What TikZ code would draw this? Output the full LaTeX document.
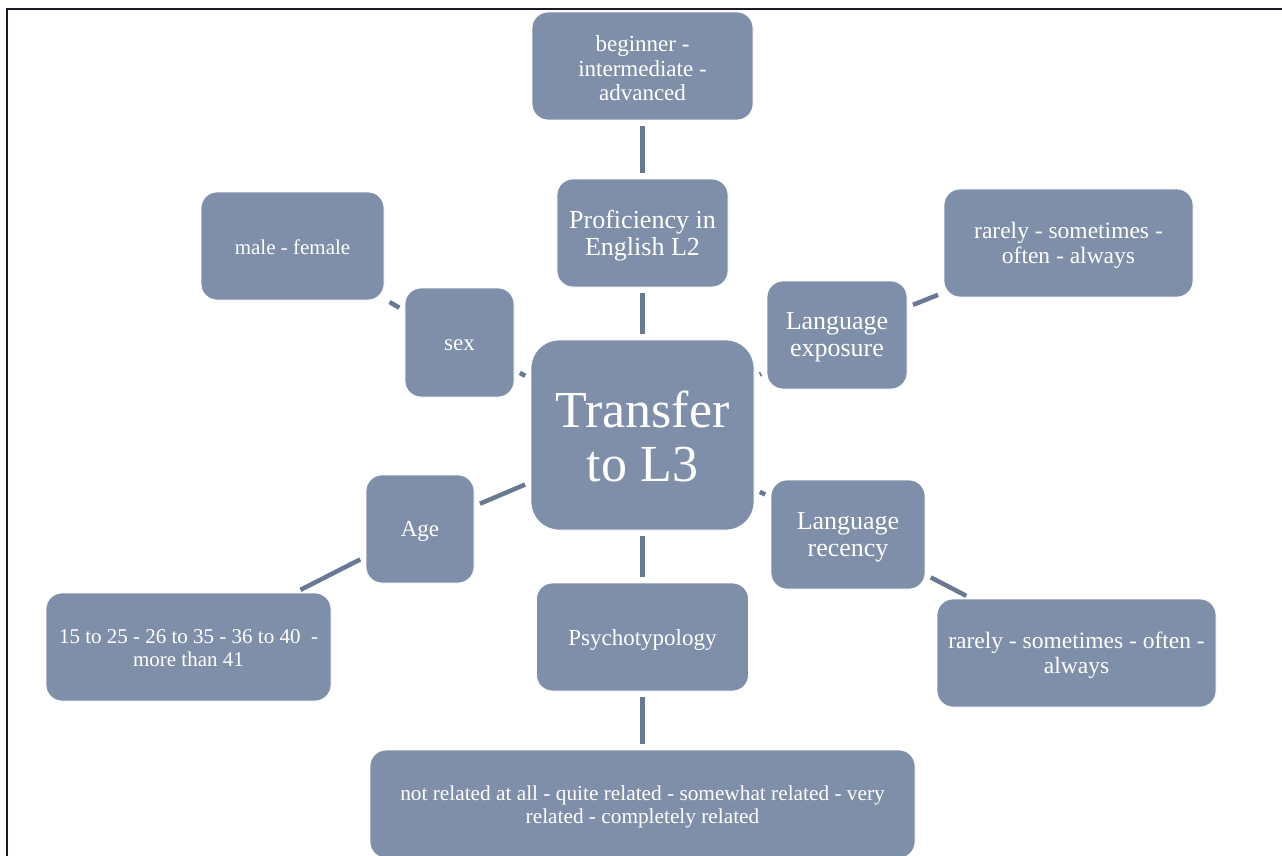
\documentclass[tikz,border=0pt]{standalone}
\usepackage{fontspec}
\setmainfont{Liberation Serif}
\definecolor{boxfill}{HTML}{7F8FA9}
\definecolor{linkcol}{HTML}{6A7993}
\definecolor{framecol}{HTML}{1A1A2A}
\begin{document}
\begin{tikzpicture}[x=1pt,y=-1pt,
  box/.style={rectangle, rounded corners=16pt, fill=boxfill, draw=white, line width=0.8pt,
    inner sep=0pt},
  boxtext/.style={text=white, inner sep=0pt, align=center},
  fA/.style={font=\fontsize{23pt}{24.5pt}\selectfont},
  fR/.style={font=\fontsize{23.5pt}{24.5pt}\selectfont},
  fB/.style={font=\fontsize{26pt}{27pt}\selectfont},
  fC/.style={font=\fontsize{21pt}{23pt}\selectfont},
  fD/.style={font=\fontsize{21.3pt}{23pt}\selectfont},
  link/.style={draw=linkcol, line width=4.5pt, shorten <=6pt, shorten >=6pt}]
\useasboundingbox (0,0) rectangle (1282,856);
\draw[framecol, line width=2pt] (6.5,857) -- (6.5,9) -- (1283,9);

\node[box, minimum width=221pt, minimum height=108pt] (top) at (642.5,66) {};
\node[box, minimum width=171pt, minimum height=108pt] (prof) at (642.5,233) {};
\node[box, rounded corners=28pt, minimum width=223pt, minimum height=190pt] (center) at (642.5,435) {};
\node[box, minimum width=109pt, minimum height=109pt] (sex) at (459.5,342.5) {};
\node[box, minimum width=183pt, minimum height=108pt] (male) at (292.5,246) {};
\node[box, minimum width=140pt, minimum height=108pt] (expo) at (837,335) {};
\node[box, minimum width=249pt, minimum height=108pt] (rareA) at (1068.5,243) {};
\node[box, minimum width=108pt, minimum height=108pt] (age) at (420,529) {};
\node[box, minimum width=285pt, minimum height=108pt] (ager) at (188.5,647) {};
\node[box, minimum width=212pt, minimum height=108pt] (psych) at (642.5,637) {};
\node[box, minimum width=545pt, minimum height=108pt] (bottom) at (642.5,804) {};
\node[box, minimum width=154pt, minimum height=109pt] (rec) at (848,534.5) {};
\node[box, minimum width=279pt, minimum height=108pt] (rareB) at (1076.5,653) {};

\node[boxtext, fA] (topT) at ([yshift=-2.5pt]top.center) {beginner -\\intermediate -\\advanced};
\node[boxtext, fB] (profT) at ([yshift=-2.5pt]prof.center) {Proficiency in\\English L2};
\node[boxtext, font=\fontsize{52pt}{54pt}\selectfont] (centerT) at ([yshift=-1pt]center.center) {Transfer\\to L3};
\node[boxtext, fA] (sexT) at ([yshift=-2.5pt]sex.center) {sex};
\node[boxtext, fC] (maleT) at ([yshift=-1.5pt]male.center) {male - female};
\node[boxtext, fB] (expoT) at ([yshift=-2.5pt]expo.center) {Language\\exposure};
\node[boxtext, fR] (rareAT) at ([yshift=-2.5pt]rareA.center) {rarely - sometimes -\\often - always};
\node[boxtext, fA] (ageT) at ([yshift=-2.5pt]age.center) {Age};
\node[boxtext, fC] (agerT) at ([yshift=-1.5pt]ager.center) {15 to 25 - 26 to 35 - 36 to 40\ \ -\\more than 41};
\node[boxtext, fA] (psychT) at ([yshift=-2.5pt]psych.center) {Psychotypology};
\node[boxtext, fD] (bottomT) at ([yshift=-2.5pt]bottom.center) {not related at all - quite related - somewhat related - very\\related - completely related};
\node[boxtext, fB] (recT) at ([yshift=-2.5pt]rec.center) {Language\\recency};
\node[boxtext, fR] (rareBT) at ([yshift=-2.5pt]rareB.center) {rarely - sometimes - often -\\always};

\draw[link] (top) -- (prof);
\draw[link] (prof) -- (center);
\draw[link] (center) -- (psych);
\draw[link] (psych) -- (bottom);
\draw[link] (center) -- (sex);
\draw[link] (sex) -- (male);
\draw[link] (center) -- (age);
\draw[link] (age) -- (ager);
\draw[link] (center) -- (expo);
\draw[link] (expo) -- (rareA);
\draw[link] (center) -- (rec);
\draw[link] (rec) -- (rareB);
\end{tikzpicture}
\end{document}
